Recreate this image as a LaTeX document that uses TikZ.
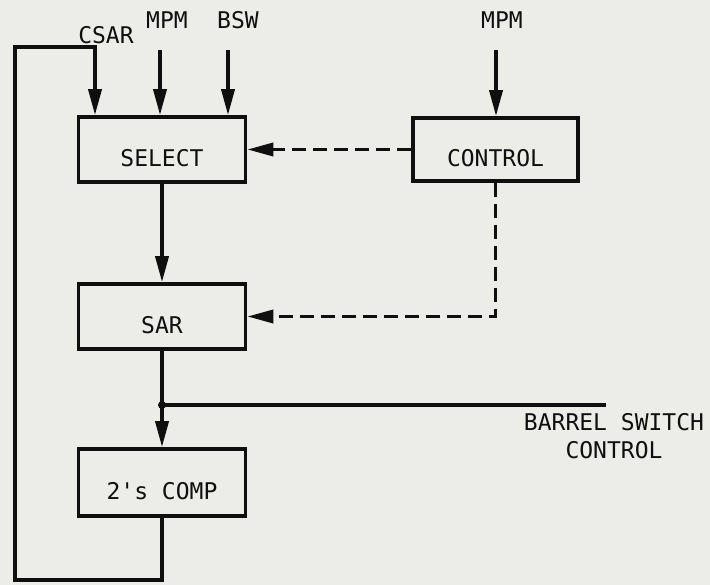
\documentclass[tikz,border=0pt]{standalone}
\usepackage{fontspec}
\setmonofont{DejaVu Sans Mono}
\usetikzlibrary{arrows.meta}
\definecolor{paper}{RGB}{236,236,233}
\definecolor{ink}{RGB}{15,15,15}
\tikzset{
  wire/.style={line width=3.6pt, draw=ink, line join=miter},
  arr/.style={wire, -{Triangle[length=26pt,width=13pt]}},
  dsh/.style={dash pattern=on 14pt off 7pt},
  blk/.style={draw=ink, line width=3.6pt, rectangle, minimum width=167pt,
    minimum height=65pt, inner sep=0pt, text height=34pt, text depth=0pt,
    font=\ttfamily\fontsize{23}{27}\selectfont, text=ink},
  lbl/.style={font=\ttfamily\fontsize{23}{28}\selectfont, text=ink, inner sep=0pt}
}
\begin{document}
\begin{tikzpicture}[x=1pt,y=-1pt]
\fill[paper] (0,0) rectangle (710,585);
\useasboundingbox (0,0) rectangle (710,585);

\node[blk] (sel) at (162,149.5) {SELECT};
\node[blk, minimum width=165pt, minimum height=63pt] (ctl) at (495.5,149.5) {CONTROL};
\node[blk] (sar) at (162,316.5) {SAR};
\node[blk, minimum height=67pt] (comp) at (162,482.5) {2's COMP};

\node[lbl] (lcsar) at (106,35) {CSAR};
\node[lbl] (lmpm1) at (167,20) {MPM};
\node[lbl] (lbsw) at (238,20) {BSW};
\node[lbl] (lmpm2) at (502,20) {MPM};
\node[lbl, align=center] (lbsc) at (614,436) {BARREL SWITCH\\CONTROL};

\coordinate (ct) at (95,47);
\coordinate (bl) at (15,580);
\coordinate (m1) at (160,50);
\coordinate (b1) at (228,50);
\coordinate (m2) at (496,50);
\coordinate (j) at (162,405);
\coordinate (bend) at (606,405);

\draw[arr] (comp.south) |- (bl) |- (ct) -- (ct |- sel.north);
\draw[arr] (m1) -- (m1 |- sel.north);
\draw[arr] (b1) -- (b1 |- sel.north);
\draw[arr] (m2) -- (m2 |- ctl.north);
\draw[arr, dsh] (ctl.west) -- (sel.east);
\draw[arr, dsh] (ctl.south) |- (sar.east);
\draw[arr] (sel.south) -- (sar.north);
\draw[arr] (sar.south) -- (comp.north);
\fill[ink] (j) circle (4pt);
\draw[wire] (j) -- (bend);
\end{tikzpicture}
\end{document}
